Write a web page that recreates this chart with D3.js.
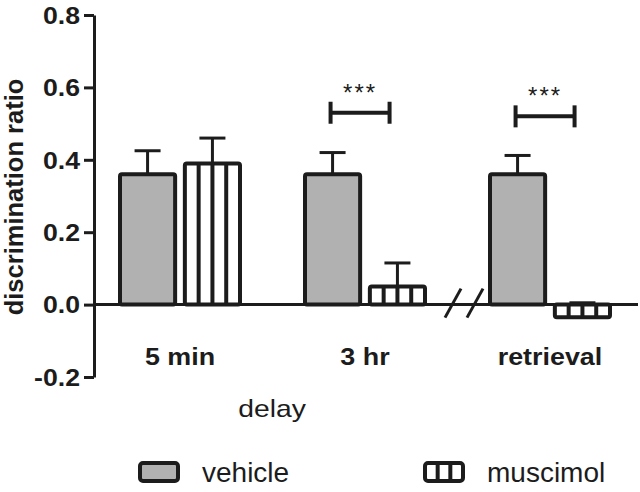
<!DOCTYPE html>
<html>
<head>
<meta charset="utf-8">
<script src="https://cdn.jsdelivr.net/npm/d3@7"></script>
<style>
  body { margin: 0; background: #fff; }
  svg { display: block; font-family: "Liberation Sans", Arial, sans-serif; }
</style>
</head>
<body>
<figure id="chart" style="margin:0"></figure>
<script>
// data
const delays = ['5 min', '3 hr', 'retrieval'];
const groups = ['vehicle', 'muscimol'];
const vehicleMean = [0.36, 0.36, 0.36];
const vehicleSem = [0.065, 0.06, 0.052];
const muscimolMean = [0.39, 0.05, -0.035];
const muscimolSem = [0.07, 0.065, 0.04];
const yTicks = [-0.2, 0.0, 0.2, 0.4, 0.6, 0.8];
const sigDelays = ['3 hr', 'retrieval'];
const sigLevel = [0.53, 0.52];

const width = 640, height = 492;
const ink = '#1c1c1c';

const svg = d3.select('#chart')
  .append('svg')
  .attr('width', width)
  .attr('height', height);

const y = d3.scaleLinear()
  .domain([-0.2, 0.8])
  .range([377, 15]);

const x = d3.scalePoint()
  .domain(delays)
  .range([180, 550]);

const xSub = d3.scaleBand()
  .domain(groups)
  .range([-60, 60])
  .paddingInner(0.15);

// text stretched a bit wider, like the original export
function stretched(sel, px, py, sx) {
  sel.attr('transform', 'translate(' + px + ',' + py + ') scale(' + sx + ',1)');
}

// y axis
const yAxis = svg.append('g')
  .attr('transform', 'translate(94,0)')
  .call(d3.axisLeft(y).tickValues(yTicks).tickFormat(d => d.toFixed(1)).tickSize(10).tickSizeOuter(0));
yAxis.select('.domain').attr('stroke', ink).attr('stroke-width', 3);
yAxis.selectAll('.tick line').attr('stroke', ink).attr('stroke-width', 3);
yAxis.selectAll('.tick text')
  .attr('x', -14 / 1.16)
  .attr('dy', '0.36em')
  .attr('transform', 'scale(1.16,1)')
  .attr('fill', ink)
  .style('font-size', '23px')
  .style('font-weight', 'bold')
  .style('font-family', '"Liberation Sans", Arial, sans-serif');

svg.append('text')
  .attr('transform', 'translate(23,197) rotate(-90)')
  .attr('text-anchor', 'middle')
  .attr('fill', ink)
  .style('font-size', '25.5px')
  .style('font-weight', 'bold')
  .text('discrimination ratio');

// x axis line at zero
svg.append('line')
  .attr('x1', 94).attr('x2', 638)
  .attr('y1', y(0)).attr('y2', y(0))
  .attr('stroke', ink).attr('stroke-width', 3);

// axis break marks
[453, 475].forEach(cx => {
  svg.append('line')
    .attr('x1', cx - 8).attr('y1', y(0) + 13)
    .attr('x2', cx + 8).attr('y2', y(0) - 16)
    .attr('stroke', ink).attr('stroke-width', 3);
});

// delay labels
svg.selectAll('.delay-label')
  .data(delays)
  .enter()
  .append('text')
  .each(function (d) { stretched(d3.select(this), x(d), 365, 1.12); })
  .attr('text-anchor', 'middle')
  .attr('fill', ink)
  .style('font-size', '24px')
  .style('font-weight', 'bold')
  .text(d => d);

svg.append('text')
  .call(stretched, 272, 417, 1.18)
  .attr('text-anchor', 'middle')
  .attr('fill', ink)
  .style('font-size', '24px')
  .text('delay');

// bars
const bars = delays.flatMap((d, i) => [
  { delay: d, group: 'vehicle', mean: vehicleMean[i], sem: vehicleSem[i] },
  { delay: d, group: 'muscimol', mean: muscimolMean[i], sem: muscimolSem[i] }
]);

const barG = svg.append('g');
const bw = xSub.bandwidth();

bars.forEach(b => {
  const x0 = x(b.delay) + xSub(b.group);
  const xc = x0 + bw / 2;
  const top = y(Math.max(b.mean, 0));
  const bottom = y(Math.min(b.mean, 0));

  // error bar (upward)
  const eTop = y(b.mean + b.sem);
  barG.append('line')
    .attr('x1', xc).attr('x2', xc)
    .attr('y1', y(b.mean)).attr('y2', eTop)
    .attr('stroke', ink).attr('stroke-width', 3);
  barG.append('line')
    .attr('x1', xc - 13).attr('x2', xc + 13)
    .attr('y1', eTop).attr('y2', eTop)
    .attr('stroke', ink).attr('stroke-width', 3);

  barG.append('rect')
    .attr('x', x0)
    .attr('y', top)
    .attr('width', bw)
    .attr('height', bottom - top)
    .attr('rx', 2)
    .attr('fill', b.group === 'vehicle' ? '#b1b1b1' : '#fff')
    .attr('stroke', ink)
    .attr('stroke-width', 4);

  if (b.group === 'muscimol') {
    [1, 2, 3].forEach(k => {
      barG.append('line')
        .attr('x1', x0 + k * bw / 4).attr('x2', x0 + k * bw / 4)
        .attr('y1', top).attr('y2', bottom)
        .attr('stroke', ink).attr('stroke-width', 4);
    });
  }
});

// significance brackets
sigDelays.forEach((d, i) => {
  const xa = x(d) + xSub('vehicle') + bw / 2 - 2;
  const xb = xa + 59;
  const yy = y(sigLevel[i]);
  const g = svg.append('g');
  g.append('line').attr('x1', xa).attr('x2', xb).attr('y1', yy).attr('y2', yy)
    .attr('stroke', ink).attr('stroke-width', 4);
  [xa, xb].forEach(xx => {
    g.append('line').attr('x1', xx).attr('x2', xx).attr('y1', yy - 11).attr('y2', yy + 11)
      .attr('stroke', ink).attr('stroke-width', 4);
  });
  g.append('text')
    .attr('x', (xa + xb) / 2).attr('y', yy - 12)
    .attr('text-anchor', 'middle')
    .attr('fill', ink)
    .attr('letter-spacing', '2px')
    .style('font-size', '24px')
    .text('***');
});

// legend
const legendX = [138, 423];
groups.forEach((gname, i) => {
  const lx = legendX[i];
  const g = svg.append('g');
  g.append('rect')
    .attr('x', lx + 2).attr('y', 463)
    .attr('width', 38).attr('height', 18)
    .attr('rx', 3)
    .attr('fill', gname === 'vehicle' ? '#b1b1b1' : '#fff')
    .attr('stroke', ink).attr('stroke-width', 4);
  if (gname === 'muscimol') {
    [1, 2].forEach(k => {
      g.append('line')
        .attr('x1', lx + 2 + k * 38 / 3).attr('x2', lx + 2 + k * 38 / 3)
        .attr('y1', 463).attr('y2', 481)
        .attr('stroke', ink).attr('stroke-width', 4);
    });
  }
  g.append('text')
    .attr('x', lx + 64).attr('y', 482)
    .attr('fill', ink)
    .style('font-size', '28px')
    .text(gname);
});
</script>
</body>
</html>
